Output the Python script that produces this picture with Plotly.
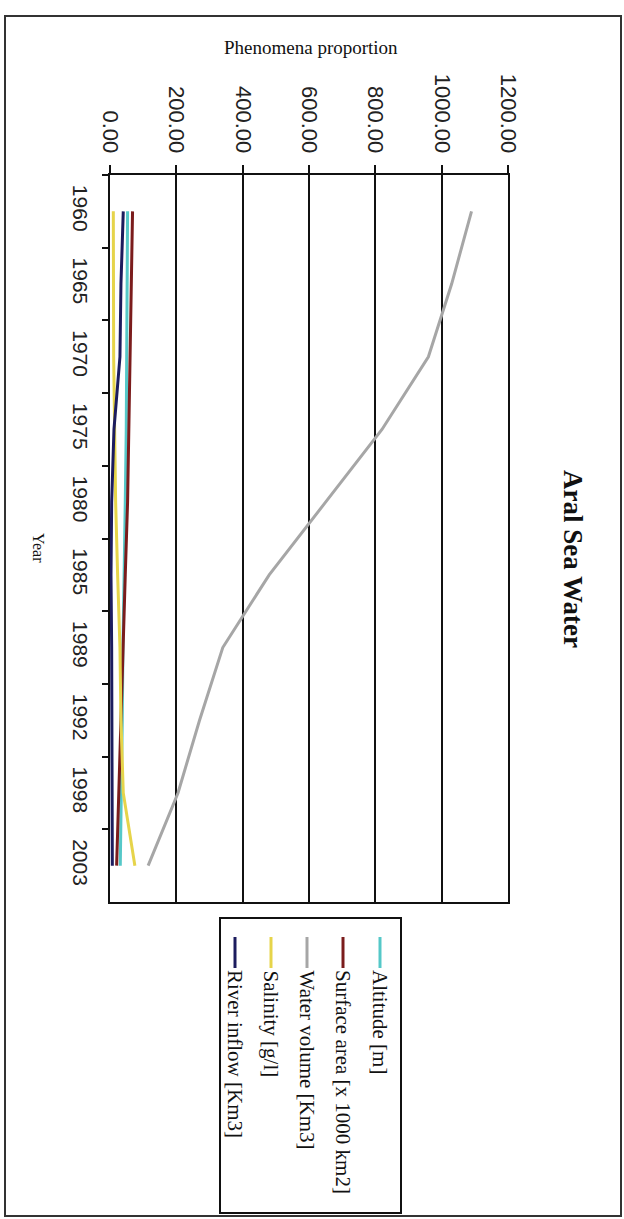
import plotly.graph_objects as go

# Aral Sea indicators by survey year
years = ["1960", "1965", "1970", "1975", "1980", "1985", "1989", "1992", "1998", "2003"]
altitude = [53, 52, 51, 49, 46, 42, 39, 37, 35, 31]
surface_area = [68, 64, 60, 57, 53, 46, 40, 34, 28, 20]
water_volume = [1090, 1030, 960, 820, 650, 480, 340, 270, 205, 115]
salinity = [10, 10, 11, 14, 17, 23, 30, 33, 40, 75]
river_inflow = [40, 33, 30, 12, 5, 3, 5, 6, 6, 7]

series_names = ["Altitude [m]", "Surface area [x 1000 km2]", "Water volume [Km3]",
                "Salinity [g/l]", "River inflow [Km3]"]
series_values = [altitude, surface_area, water_volume, salinity, river_inflow]
series_colors = ["#55c8c8", "#7b1c1c", "#a6a6a6", "#e6d44a", "#1c1c5e"]
value_ticks = [0, 200, 400, 600, 800, 1000, 1200]

W, H = 624, 1219
L, R, T, B = 110, 116, 175, 317
PW, PH = W - L - R, H - T - B


def px_x(px):
    return (px - L) / PW


def px_y(py):
    return (H - B - py) / PH


SANS = "Liberation Sans, Arial, sans-serif"
SERIF = "Liberation Serif, Times New Roman, serif"

fig = go.Figure()
for name, vals, col in zip(series_names, series_values, series_colors):
    fig.add_trace(go.Scatter(x=vals, y=years, mode="lines", name=name,
                             line=dict(color=col, width=3), showlegend=False))

shapes = []
annotations = []

# outer frame
shapes.append(dict(type="rect", xref="paper", yref="paper",
                   x0=px_x(5), x1=px_x(621), y0=px_y(16), y1=px_y(1216),
                   line=dict(color="#333333", width=2)))

# legend box, drawn rotated with the rest of the chart
lg_x0, lg_x1, lg_y0, lg_y1 = 220, 401, 918, 1213
shapes.append(dict(type="rect", xref="paper", yref="paper",
                   x0=px_x(lg_x0), x1=px_x(lg_x1), y0=px_y(lg_y0), y1=px_y(lg_y1),
                   line=dict(color="#111111", width=2), fillcolor="white"))
legend_x = [380, 343, 307, 271, 235]
for name, col, lx in zip(series_names, series_colors, legend_x):
    shapes.append(dict(type="line", xref="paper", yref="paper",
                       x0=px_x(lx), x1=px_x(lx), y0=px_y(937), y1=px_y(968),
                       line=dict(color=col, width=3)))
    annotations.append(dict(text=name, textangle=90, xref="paper", yref="paper",
                            x=px_x(lx), y=px_y(968), xanchor="center", yanchor="top",
                            showarrow=False, font=dict(family=SERIF, size=21, color="#111")))

annotations.append(dict(text="Phenomena proportion", xref="paper", yref="paper",
                        x=px_x(311), y=px_y(47), xanchor="center", yanchor="middle",
                        showarrow=False, font=dict(family=SERIF, size=19, color="#111")))
annotations.append(dict(text="Year", textangle=90, xref="paper", yref="paper",
                        x=px_x(39), y=px_y(548), xanchor="center", yanchor="middle",
                        showarrow=False, font=dict(family=SERIF, size=16, color="#111")))
annotations.append(dict(text="<b>Aral Sea Water</b>", textangle=90, xref="paper", yref="paper",
                        x=px_x(573), y=px_y(559), xanchor="center", yanchor="middle",
                        showarrow=False, font=dict(family=SERIF, size=27, color="#111")))

fig.update_layout(
    width=W, height=H,
    margin=dict(l=L, r=R, t=T, b=B, pad=0),
    paper_bgcolor="white", plot_bgcolor="white",
    shapes=shapes, annotations=annotations,
    xaxis=dict(range=[0, 1200], side="top", tickvals=value_ticks,
               ticktext=[f"{v:.2f}" for v in value_ticks], tickangle=90,
               ticks="outside", ticklen=8, tickwidth=2, tickcolor="#111",
               showgrid=True, gridcolor="#111", gridwidth=1.5,
               showline=True, linecolor="#111", linewidth=2, mirror=True,
               zeroline=False, ticklabelstandoff=4,
               tickfont=dict(family=SANS, size=22, color="#222")),
    yaxis=dict(type="category", categoryorder="array", categoryarray=years,
               autorange="reversed", tickangle=90, ticks="outside", tickson="boundaries",
               ticklen=6, tickwidth=2, tickcolor="#111", showgrid=False,
               showline=True, linecolor="#111", linewidth=2, mirror=True,
               ticklabelstandoff=10,
               tickfont=dict(family=SANS, size=21, color="#222")),
)

fig.write_html("out.html")
